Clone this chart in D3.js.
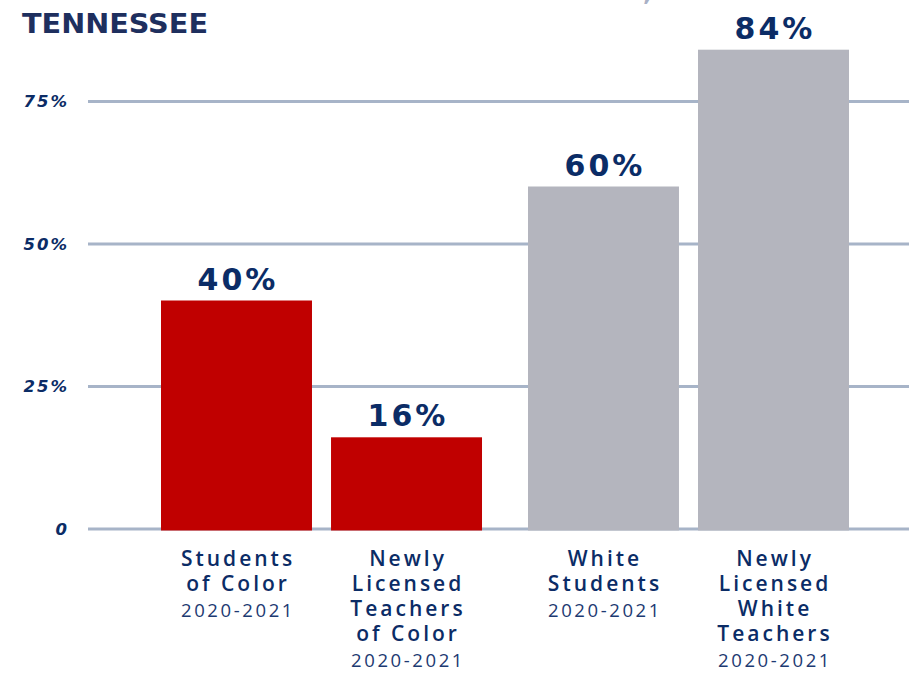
<!DOCTYPE html>
<html>
<head>
<meta charset="utf-8">
<script src="https://cdn.jsdelivr.net/npm/d3@7"></script>
<style>
  body { margin: 0; background: #fff; }
  svg { display: block; }
</style>
</head>
<body>
<script>
// chart data
const groups = ['color', 'white'];
const barGroup = ['color', 'color', 'white', 'white'];
const labelLines = [
    ['Students', 'of Color'],
    ['Newly', 'Licensed', 'Teachers', 'of Color'],
    ['White', 'Students'],
    ['Newly', 'Licensed', 'White', 'Teachers']
];
const yearLabels = ['2020-2021', '2020-2021', '2020-2021', '2020-2021'];
const values = [40, 16, 60, 84];
const yTicks = [0, 25, 50, 75];
const yTickLabels = ['0', '25%', '50%', '75%'];

const width = 909;
const height = 673;
const navy = '#0b2c66';
const colors = { color: '#c00000', white: '#b4b5be' };

const svg = d3.select('body')
    .append('svg')
    .attr('width', width)
    .attr('height', height);

// title (top line is cut off in the original)
svg.append('text')
    .attr('x', 22)
    .attr('y', -0.5)
    .attr('textLength', 630)
    .attr('lengthAdjust', 'spacingAndGlyphs')
    .style('font-family', '"DejaVu Sans", sans-serif')
    .style('font-weight', 'bold')
    .style('font-size', '27px')
    .attr('fill', '#a9b1c6')
    .text('DEMOGRAPHICS OF STUDENTS AND TEACHERS,');

svg.append('text')
    .attr('x', 22)
    .attr('y', 33)
    .attr('textLength', 186)
    .attr('lengthAdjust', 'spacingAndGlyphs')
    .style('font-family', '"DejaVu Sans Condensed", "DejaVu Sans", sans-serif')
    .style('font-weight', 'bold')
    .style('font-size', '27px')
    .attr('fill', '#1e2f5e')
    .text('TENNESSEE');

const yScale = d3.scaleLinear()
    .domain([0, 75])
    .range([528.5, 101]);

const groupScale = d3.scaleBand()
    .domain(groups)
    .range([161, 849])
    .paddingInner(0.1253)
    .paddingOuter(0);

const innerScale = d3.scaleBand()
    .domain([0, 1])
    .range([0, groupScale.bandwidth()])
    .paddingInner(0.112)
    .paddingOuter(0);

const barX = (i) => groupScale(barGroup[i]) + innerScale(i % 2);
const barW = innerScale.bandwidth();

// y axis with gridlines
const yAxis = d3.axisLeft(yScale)
    .tickValues(yTicks)
    .tickSize(-(width - 88))
    .tickPadding(19)
    .tickFormat((d, i) => yTickLabels[i]);

const yG = svg.append('g')
    .attr('transform', 'translate(88, 0)')
    .call(yAxis);

yG.select('.domain').remove();
yG.selectAll('.tick line')
    .attr('stroke', '#a7b4c8')
    .attr('stroke-width', 3);
yG.selectAll('.tick text')
    .attr('fill', navy)
    .attr('dy', '0.36em')
    .style('font-family', '"DejaVu Sans", sans-serif')
    .style('font-weight', 'bold')
    .style('font-style', 'italic')
    .style('font-size', '16.5px')
    .style('letter-spacing', '2px');

// bars
svg.selectAll('rect.bar')
    .data(values)
    .enter()
    .append('rect')
    .attr('class', 'bar')
    .attr('x', (d, i) => barX(i))
    .attr('y', (d) => yScale(d))
    .attr('width', barW)
    .attr('height', (d) => yScale(0) + 2 - yScale(d))
    .attr('fill', (d, i) => colors[barGroup[i]]);

// value labels
svg.selectAll('text.value')
    .data(values)
    .enter()
    .append('text')
    .attr('class', 'value')
    .attr('x', (d, i) => barX(i) + barW / 2 + 1.5)
    .attr('y', (d) => yScale(d) - 11)
    .attr('text-anchor', 'middle')
    .attr('fill', navy)
    .style('font-family', '"DejaVu Sans", sans-serif')
    .style('font-weight', 'bold')
    .style('font-size', '30px')
    .style('letter-spacing', '3px')
    .text((d) => d + '%');

// category labels
const catG = svg.selectAll('g.cat')
    .data(labelLines)
    .enter()
    .append('g')
    .attr('class', 'cat')
    .attr('transform', (d, i) => 'translate(' + (barX(i) + barW / 2 + 1.5) + ', 0)');

catG.each(function (lines, i) {
    const g = d3.select(this);
    lines.forEach((line, j) => {
        g.append('text')
            .attr('y', 566 + j * 25)
            .attr('text-anchor', 'middle')
            .attr('fill', navy)
            .style('font-family', '"Open Sans", sans-serif')
            .style('font-weight', 600)
            .style('font-size', '21px')
            .style('letter-spacing', '3px')
            .text(line);
    });
    g.append('text')
        .attr('y', 566 + lines.length * 25 + 1)
        .attr('text-anchor', 'middle')
        .attr('fill', '#1d3a72')
        .style('font-family', '"Open Sans", sans-serif')
        .style('font-weight', 400)
        .style('font-size', '18.5px')
        .style('letter-spacing', '2.6px')
        .text(yearLabels[i]);
});
</script>
</body>
</html>
